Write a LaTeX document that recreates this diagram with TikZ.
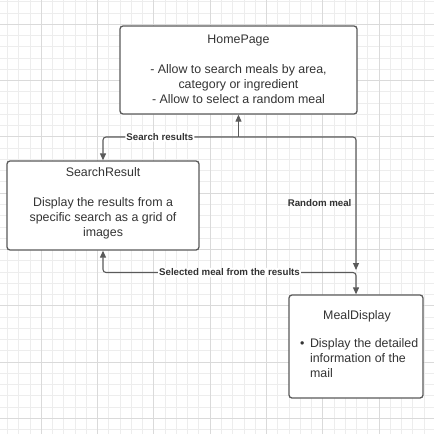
\documentclass[tikz,border=0pt]{standalone}
\usepackage{fontspec}
\setmainfont{Liberation Sans}
\usetikzlibrary{arrows.meta}
\definecolor{txt}{HTML}{333333}
\definecolor{edge}{HTML}{5A5A5A}
\definecolor{gminor}{HTML}{EDEDED}
\definecolor{gmajor}{HTML}{DADADA}
\tikzset{
  box/.style={draw=edge, line width=1.3pt, rounded corners=3pt, fill=white, inner sep=0pt},
  btext/.style={text=txt, font=\fontsize{12.4}{15}\selectfont, align=center, inner sep=0pt},
  conn/.style={draw=edge, line width=1.1pt, rounded corners=3pt},
  tip/.style={-{Triangle[length=7pt,width=6pt]}},
  lab/.style={text=txt, font=\bfseries\fontsize{9.7}{11}\selectfont, fill=white, inner sep=1pt}
}
\begin{document}
\begin{tikzpicture}[x=1pt,y=-1pt]
\useasboundingbox (0,0) rectangle (434,434);
\fill[white] (0,0) rectangle (434,434);
% grid
\foreach \g in {7.52,18.78,...,434} \draw[gminor, line width=0.9pt] (\g,0) -- (\g,434);
\foreach \g in {1.78,13.04,...,434} \draw[gminor, line width=0.9pt] (0,\g) -- (434,\g);
\foreach \k in {0,...,6} \draw[gmajor, line width=0.9pt] ({41.3+56.3*\k},0) -- ({41.3+56.3*\k},434);
\foreach \k in {0,...,7} \draw[gmajor, line width=0.9pt] (0,{24.3+56.3*\k}) -- (434,{24.3+56.3*\k});

% boxes
\node[box, minimum width=237pt, minimum height=88pt] (hp) at (238.5,70) {};
\node[box, minimum width=192pt, minimum height=89pt] (sr) at (103,205.5) {};
\node[box, minimum width=134pt, minimum height=103pt] (md) at (356,346.5) {};

% texts
\node[btext] (hpt) at (238.5,69) {HomePage\\[15pt]- Allow to search meals by area,\\category or ingredient\\- Allow to select a random meal};
\node[btext] (srt) at (103,203) {SearchResult\\[15pt]Display the results from a\\specific search as a grid of\\images};
\node[btext] (mdt) at (357,316) {MealDisplay};
\node[btext, anchor=north west, align=left] (mdl) at (300,337.2) {\begin{tabular}{@{}l@{\hspace{5.5pt}}l@{}}•&Display the detailed\\&information of the\\&mail\end{tabular}};

% connectors
\coordinate (j1) at (238.5,137);
\coordinate (j2) at (356,270);
\coordinate (j3) at (103,272.5);
\draw[conn, tip] (j1) -- (hp.south);
\draw[conn, tip] (j1) -| (sr.north) node[lab, pos=0.29] {Search results};
\draw[conn, tip] (j1) -| (j2) node[lab, pos=0.75, left=3pt, fill=none] {Random meal};
\draw[conn, {Triangle[length=7pt,width=6pt]}-{Triangle[length=7pt,width=6pt]}] (sr.south) -- (j3) -| (md.north) node[lab, pos=0.25] {Selected meal from the results};
\end{tikzpicture}
\end{document}
